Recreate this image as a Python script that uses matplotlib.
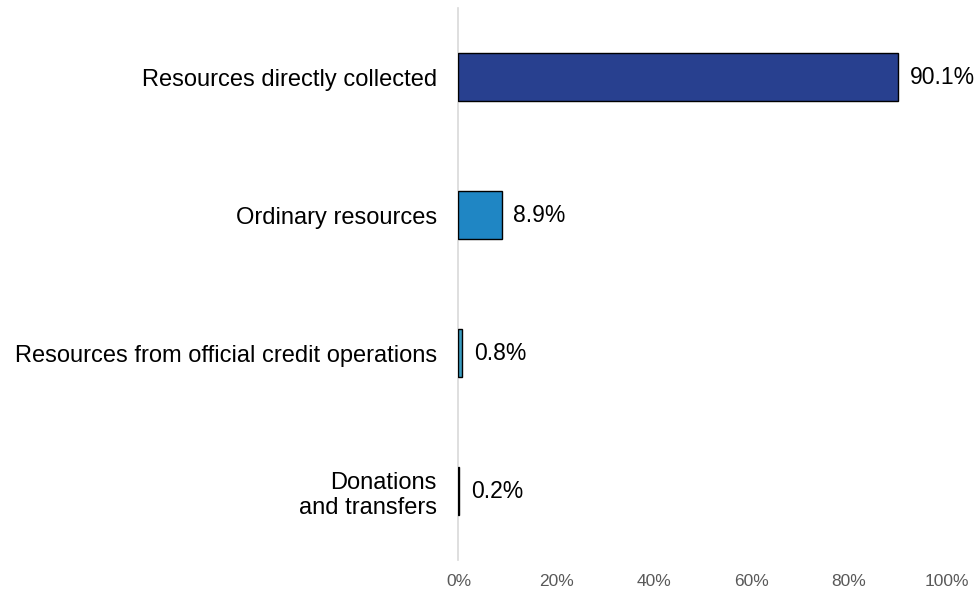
import matplotlib.pyplot as plt

plt.rcParams['font.family'] = ['Liberation Sans', 'DejaVu Sans']

categories = ['Resources directly collected', 'Ordinary resources',
              'Resources from official credit operations', 'Donations\nand transfers']
values = [90.1, 8.9, 0.8, 0.2]
labels = ['90.1%', '8.9%', '0.8%', '0.2%']
colors = ['#28408F', '#1F86C4', '#3A9CC0', '#2F6F8A']
ticks = [0, 20, 40, 60, 80, 100]

fig = plt.figure(figsize=(9.79, 5.92), dpi=100)
ax = fig.add_axes([458.5 / 979, 0.054, 488 / 979, 0.932])

y = list(range(len(categories)))
ax.barh(y, values, height=0.35, color=colors, edgecolor='black', linewidth=1, zorder=3)
for yi, v, lab in zip(y, values, labels):
    ax.text(v + 2.3, yi, lab, va='center', ha='left', fontsize=16.5, color='black')

ax.set_ylim(len(categories) - 0.5, -0.5)
ax.set_xlim(0, 100)
ax.set_yticks(y)
ax.set_yticklabels(categories, fontsize=17, color='black', ha='right')
ax.set_xticks(ticks)
ax.set_xticklabels([f'{t}%' for t in ticks], fontsize=12.5, color='#595959')
ax.tick_params(axis='both', length=0)
ax.tick_params(axis='y', pad=15.5)
ax.tick_params(axis='x', pad=10)

for s in ['top', 'right', 'bottom']:
    ax.spines[s].set_visible(False)
ax.spines['left'].set_color('#D9D9D9')
ax.spines['left'].set_linewidth(1.2)

fig.savefig('out.png', dpi=100)
